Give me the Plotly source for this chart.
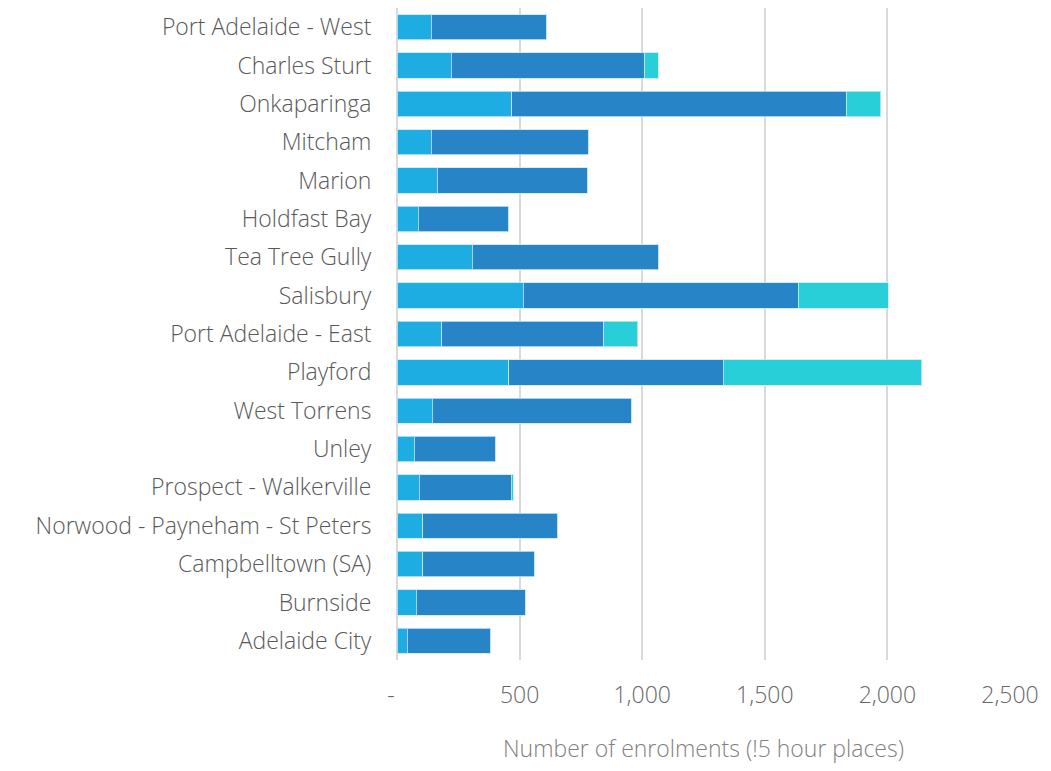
import plotly.graph_objects as go

regions = ["Port Adelaide - West", "Charles Sturt", "Onkaparinga", "Mitcham", "Marion",
           "Holdfast Bay", "Tea Tree Gully", "Salisbury", "Port Adelaide - East", "Playford",
           "West Torrens", "Unley", "Prospect - Walkerville", "Norwood - Payneham - St Peters",
           "Campbelltown (SA)", "Burnside", "Adelaide City"]
series_a = [139, 221, 467, 139, 164, 87, 307, 514, 183, 456, 143, 70, 91, 106, 106, 78, 42]
series_b = [471, 789, 1367, 640, 613, 369, 761, 1125, 660, 875, 815, 332, 374, 549, 453, 445, 340]
series_c = [0, 56, 138, 0, 0, 0, 0, 364, 138, 810, 0, 0, 9, 0, 0, 0, 0]
colors = ["#1eade3", "#2784c7", "#29cfd8"]
tick_vals = [0, 500, 1000, 1500, 2000, 2500]
tick_text = ["-\u00a0\u00a0", "500", "1,000", "1,500", "2,000", "2,500"]

fig = go.Figure()
for vals, col in zip([series_a, series_b, series_c], colors):
    fig.add_trace(go.Bar(
        y=regions, x=vals, orientation="h",
        marker=dict(color=col, line=dict(color="rgba(200,230,250,0.8)", width=1)),
        width=0.66,
    ))

font_family = "'Open Sans', Roboto, sans-serif"
fig.update_layout(
    barmode="stack",
    showlegend=False,
    width=1043, height=763,
    margin=dict(l=389, r=41, t=0, b=111, autoexpand=False),
    plot_bgcolor="white", paper_bgcolor="white",
    font=dict(family=font_family, size=23, color="#595959", weight=300),
    xaxis=dict(
        range=[0, 2500], tickvals=tick_vals, ticktext=tick_text,
        showgrid=True, gridcolor="#d9d9d9", gridwidth=2,
        zeroline=True, zerolinecolor="#d9d9d9", zerolinewidth=2,
        showline=False, ticks="outside", ticklen=14, tickcolor="rgba(0,0,0,0)",
        tickfont=dict(size=23, color="#666666", family=font_family, weight=300),
        title=dict(text="Number of enrolments (!5 hour places)", standoff=32,
                   font=dict(size=23, color="#7f7f7f", family=font_family, weight=300)),
    ),
    yaxis=dict(
        autorange="reversed", showgrid=False, showline=False,
        ticks="outside", ticklen=20, tickcolor="rgba(0,0,0,0)",
        tickfont=dict(size=23, color="#595959", family=font_family, weight=300),
    ),
)
fig.write_html("out.html")
